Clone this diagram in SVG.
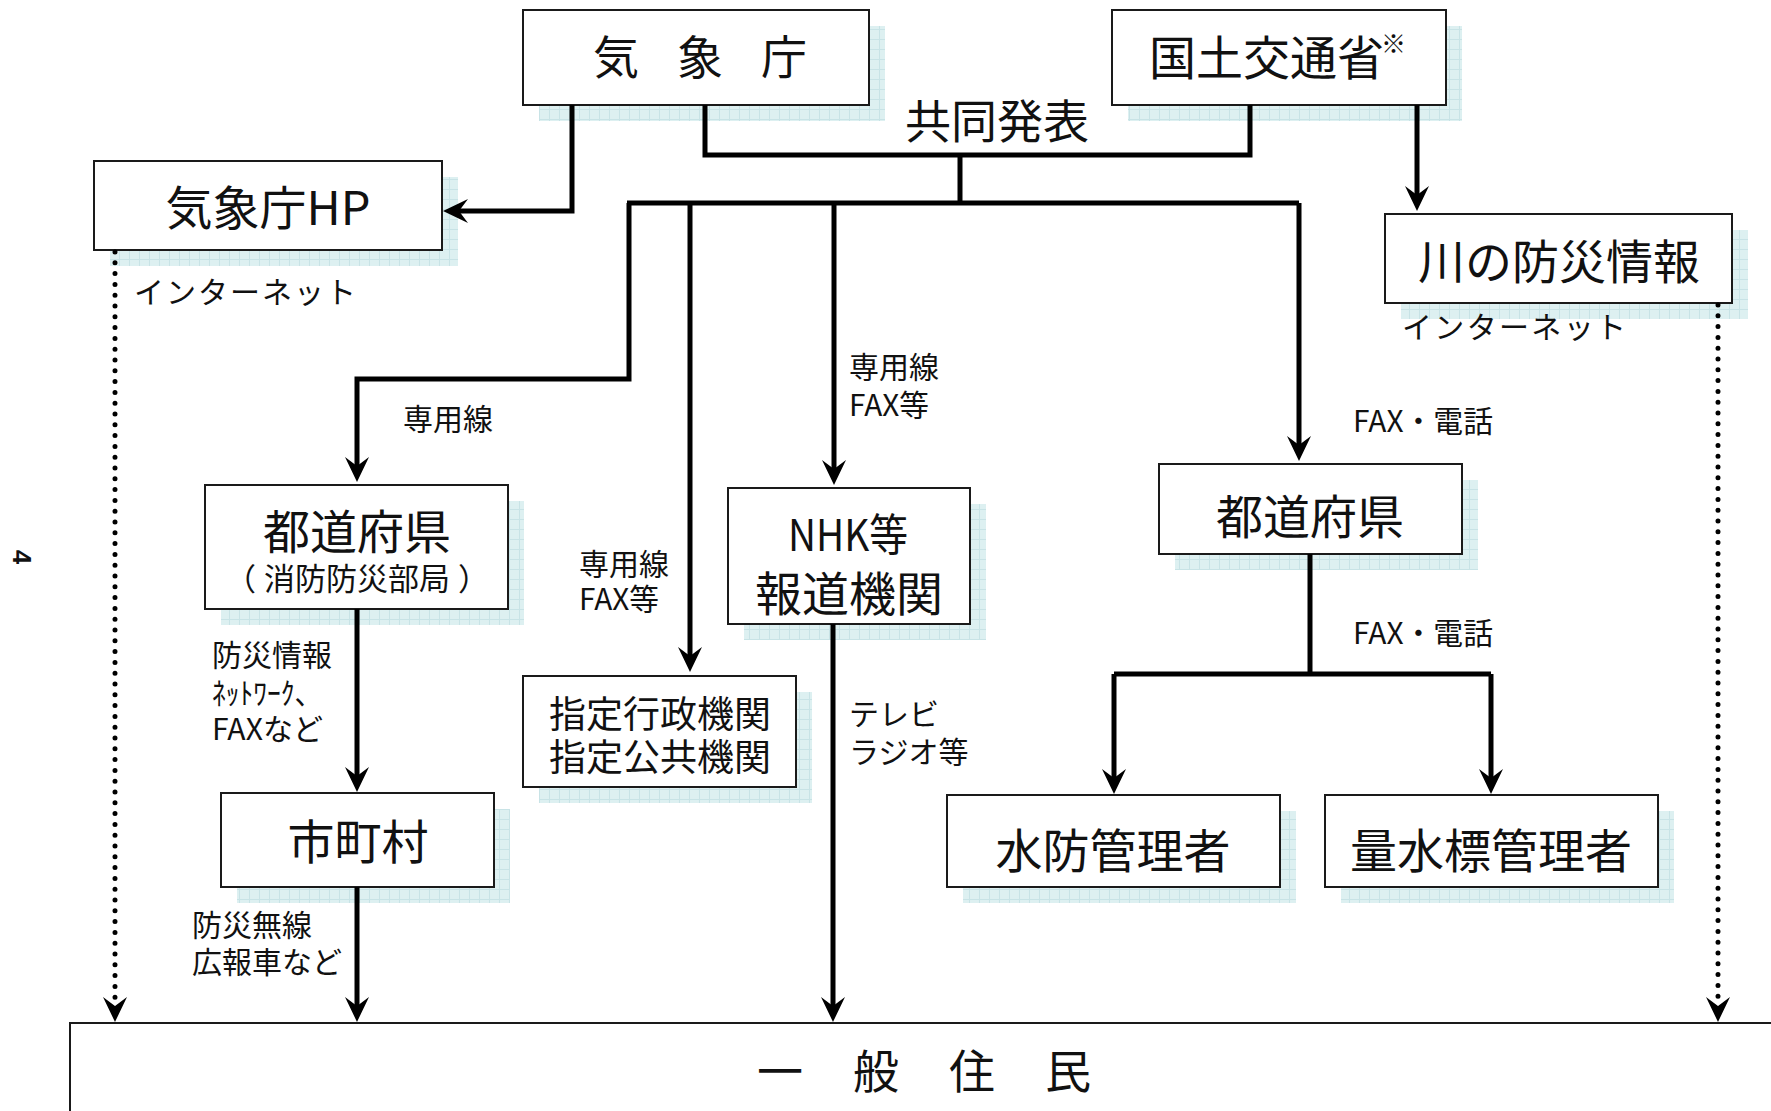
<svg xmlns="http://www.w3.org/2000/svg" width="1771" height="1111" viewBox="0 0 1771 1111">
<style>
text{font-family:"Noto Sans CJK JP","Noto Sans",sans-serif;fill:#111;dominant-baseline:central}
.box{fill:#fff;stroke:#1a1a1a;stroke-width:2}
.sh{fill:url(#grid)}
.m{text-anchor:middle}
.c{fill:none;stroke:#000;stroke-width:5}
.d{fill:none;stroke:#000;stroke-width:5;stroke-dasharray:0 10.8;stroke-linecap:round}
.big{font-size:46px}
.lab{font-size:30px}
</style>
<defs>
<pattern id="grid" width="10" height="10" patternUnits="userSpaceOnUse">
<rect width="10" height="10" fill="#ddf0f1"/>
<path d="M9.5,0 V10 M0,9.5 H10" stroke="#c8e3e6" stroke-width="1"/>
</pattern>
<marker id="ar" markerUnits="userSpaceOnUse" viewBox="-12 -14 30 28" refX="0" refY="0" markerWidth="30" markerHeight="28" orient="auto" overflow="visible">
<path d="M16,0 L-9,-12 L0,0 L-9,12 Z" fill="#000"/>
</marker>
</defs>
<rect width="1771" height="1111" fill="#fff"/>

<text transform="translate(22,557) rotate(90)" class="m" style="font-size:26px;font-weight:bold;font-family:'Liberation Sans',sans-serif">4</text>

<g id="node-kishocho">
<rect class="sh" x="539" y="26" width="346" height="95"/>
<rect class="box" x="523" y="10" width="346" height="95"/>
<text class="big m" x="698" y="54" style="letter-spacing:-4px">気　象　庁</text>
</g>
<g id="node-mlit">
<rect class="sh" x="1128" y="26" width="334" height="95"/>
<rect class="box" x="1112" y="10" width="334" height="95"/>
<text x="1149" y="54" style="font-size:47px">国土交通省</text>
<text x="1381" y="42" style="font-size:25px">※</text>
</g>
<g id="label-joint">
<text class="m" x="997" y="118" style="font-size:46px">共同発表</text>
</g>
<g id="node-hp">
<rect class="sh" x="110" y="177" width="348" height="89"/>
<rect class="box" x="94" y="161" width="348" height="89"/>
<text class="m" x="268" y="204" style="font-size:47px">気象庁HP</text>
<text class="lab" x="134" y="290" textLength="222">インターネット</text>
</g>
<g id="node-river">
<rect class="sh" x="1401" y="230" width="347" height="89"/>
<rect class="box" x="1385" y="214" width="347" height="89"/>
<text class="m" x="1559" y="258" style="font-size:47px">川の防災情報</text>
<text class="lab" x="1402" y="325" textLength="224">インターネット</text>
</g>
<g id="node-pref-left">
<rect class="sh" x="221" y="501" width="303" height="124"/>
<rect class="box" x="205" y="485" width="303" height="124"/>
<text class="m" x="357" y="528" style="font-size:47px">都道府県<tspan x="357" y="576" style="font-size:31px">（<tspan dx="8">消防防災部局</tspan><tspan dx="8">）</tspan></tspan></text>
</g>
<g id="node-shitei">
<rect class="sh" x="539" y="692" width="273" height="111"/>
<rect class="box" x="523" y="676" width="273" height="111"/>
<text class="m" x="660" y="712" style="font-size:37px">指定行政機関<tspan x="660" y="755">指定公共機関</tspan></text>
</g>
<g id="node-nhk">
<rect class="sh" x="744" y="504" width="242" height="136"/>
<rect class="box" x="728" y="488" width="242" height="136"/>
<text class="m" x="849" y="590" style="font-size:47px"><tspan x="848" y="532" style="font-size:44px" textLength="120" lengthAdjust="spacingAndGlyphs">NHK等</tspan><tspan x="849" y="590">報道機関</tspan></text>
</g>
<g id="node-pref-right">
<rect class="sh" x="1175" y="480" width="303" height="90"/>
<rect class="box" x="1159" y="464" width="303" height="90"/>
<text class="m" x="1310" y="513" style="font-size:47px">都道府県</text>
</g>
<g id="node-suibo">
<rect class="sh" x="963" y="811" width="333" height="92"/>
<rect class="box" x="947" y="795" width="333" height="92"/>
<text class="m" x="1113" y="847" style="font-size:47px">水防管理者</text>
</g>
<g id="node-ryosuihyo">
<rect class="sh" x="1341" y="811" width="333" height="92"/>
<rect class="box" x="1325" y="795" width="333" height="92"/>
<text class="m" x="1491" y="847" style="font-size:47px">量水標管理者</text>
</g>
<g id="node-shichoson">
<rect class="sh" x="237" y="809" width="273" height="94"/>
<rect class="box" x="221" y="793" width="273" height="94"/>
<text class="m" x="358" y="838" style="font-size:47px">市町村</text>
</g>
<g id="node-jumin">
<rect class="box" x="70" y="1023" width="1720" height="110"/>
<text x="757" y="1068" style="font-size:46px;letter-spacing:2px">一　般　住　民</text>
</g>

<g id="connectors">
<path class="c" d="M705,105 V155 H1250 V105"/>
<path class="c" d="M960,155 V203"/>
<path class="c" d="M627,203 H1299"/>
<path class="c" d="M629,203 V379 H357 V466" marker-end="url(#ar)"/>
<path class="c" d="M690,203 V656" marker-end="url(#ar)"/>
<path class="c" d="M834,203 V469" marker-end="url(#ar)"/>
<path class="c" d="M1299,203 V445" marker-end="url(#ar)"/>
<path class="c" d="M572,105 V211 H459" marker-end="url(#ar)"/>
<path class="c" d="M1417,105 V195" marker-end="url(#ar)"/>
<path class="c" d="M357,609 V776" marker-end="url(#ar)"/>
<path class="c" d="M357,887 V1006" marker-end="url(#ar)"/>
<path class="c" d="M833,624 V1006" marker-end="url(#ar)"/>
<path class="c" d="M1310,554 V674"/>
<path class="c" d="M1114,674 H1491"/>
<path class="c" d="M1114,674 V778" marker-end="url(#ar)"/>
<path class="c" d="M1491,674 V778" marker-end="url(#ar)"/>
<path class="d" d="M115,252 V1000"/>
<path class="c" d="M115,1000 V1006" style="stroke:none" marker-end="url(#ar)"/>
<path class="d" d="M1718,305 V1000"/>
<path class="c" d="M1718,1000 V1006" style="stroke:none" marker-end="url(#ar)"/>
</g>

<g id="labels">
<text class="lab" x="403" y="417">専用線</text>
<text class="lab" x="579" y="562">専用線<tspan x="579" y="597" textLength="80" lengthAdjust="spacingAndGlyphs">FAX等</tspan></text>
<text class="lab" x="849" y="365">専用線<tspan x="849" y="403" textLength="80" lengthAdjust="spacingAndGlyphs">FAX等</tspan></text>
<text class="lab" x="849" y="712">テレビ<tspan x="849" y="750">ラジオ等</tspan></text>
<text class="lab" x="1353" y="419" textLength="140" lengthAdjust="spacingAndGlyphs">FAX・電話</text>
<text class="lab" x="1353" y="631" textLength="140" lengthAdjust="spacingAndGlyphs">FAX・電話</text>
<text class="lab" x="212" y="653">防災情報<tspan x="212" y="691" textLength="110" lengthAdjust="spacingAndGlyphs">ﾈｯﾄﾜｰｸ、</tspan><tspan x="212" y="727" textLength="111" lengthAdjust="spacingAndGlyphs">FAXなど</tspan></text>
<text class="lab" x="192" y="923">防災無線<tspan x="192" y="960">広報車など</tspan></text>
</g>
</svg>
